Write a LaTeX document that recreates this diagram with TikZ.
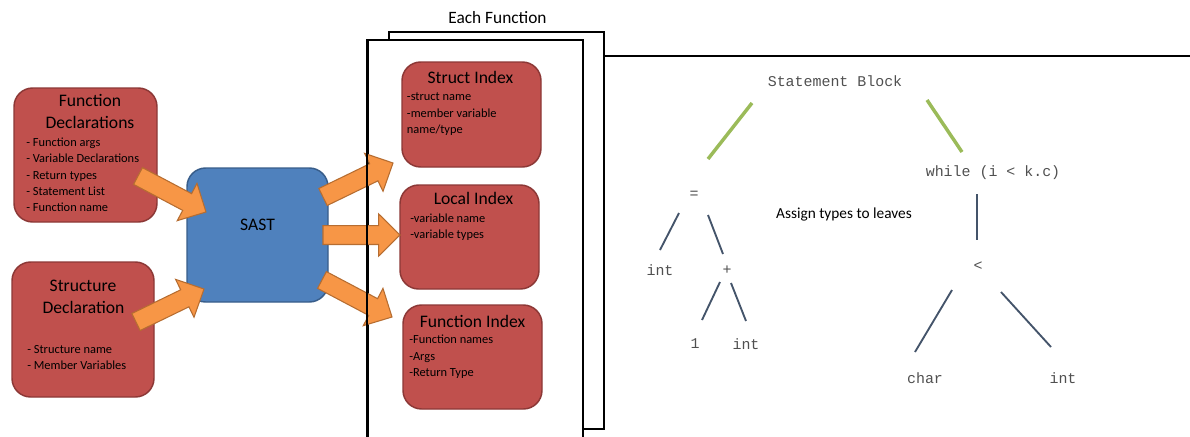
\documentclass[tikz,border=0pt]{standalone}
\usepackage{fontspec}
\setmainfont{Carlito}
\newfontfamily\monof{Liberation Mono}
\usetikzlibrary{calc,fit}
\definecolor{boxred}{HTML}{C0504D}
\definecolor{boxredline}{HTML}{8C3836}
\definecolor{sastblue}{HTML}{4F81BD}
\definecolor{sastline}{HTML}{385D8A}
\definecolor{arrorange}{HTML}{F79646}
\definecolor{arrline}{HTML}{B66D31}
\definecolor{treegreen}{HTML}{9BBB59}
\definecolor{treeblue}{HTML}{44546A}
\definecolor{treetext}{HTML}{505050}
\tikzset{
 redbox/.style={draw=boxredline, fill=boxred, line width=1.1pt, rounded corners=14pt, inner sep=0pt},
 bluebox/.style={draw=sastline, fill=sastblue, line width=1.1pt, rounded corners=14pt, inner sep=0pt},
 pagebox/.style={draw=black, fill=white, line width=1.5pt, inner sep=0pt},
 pageline/.style={draw=black, line width=1.5pt},
 titletxt/.style={font=\fontsize{13.2}{17.25}\selectfont, align=center, text=black, inner sep=0pt, anchor=base},
 listtxt/.style={font=\fontsize{9.3}{12.2}\selectfont, align=left, text=black, inner sep=0pt, anchor=base west},
 fat/.style={draw=arrline, fill=arrorange, line width=0.8pt, line join=miter},
 tlabel/.style={font=\monof\fontsize{11.2}{13}\selectfont, text=treetext, inner sep=0pt},
 gline/.style={draw=treegreen, line width=2.6pt},
 tline/.style={draw=treeblue, line width=1.4pt},
}
\newcommand\fatarrow[2]{%
 \draw[fat] ($(#1)!7.1pt!90:(#2)$) -- ($(#2)!16pt!(#1)!7.1pt!90:(#2)$) -- ($(#2)!16pt!(#1)!15.8pt!90:(#2)$) -- (#2) -- ($(#2)!16pt!(#1)!15.8pt!-90:(#2)$) -- ($(#2)!16pt!(#1)!7.1pt!-90:(#2)$) -- ($(#1)!7.1pt!-90:(#2)$) -- cycle;}
\begin{document}
\begin{tikzpicture}[x=0.75pt,y=-0.75pt]
\useasboundingbox (0,0) rectangle (1190,436);
% pages
\node[pagebox, fit={(389,32) (604,429)}] (bp) {};
\node[pagebox, fit={(368,40) (583,452)}] (fp) {};
\coordinate (rp) at (604,56);
\coordinate (rpend) at (1200,56);
\draw[pageline] (rp) -- (rpend);
\node[titletxt, font=\fontsize{13}{16}\selectfont] (each) at (497.5,23) {Each Function};
% boxes
\node[redbox, fit={(14,88) (157,222)}] (fd) {};
\node[redbox, fit={(12,262) (154,397)}] (sd) {};
\node[bluebox, fit={(187,168) (328,302)}] (sast) {};
\node[redbox, fit={(402,62) (541,167)}] (si) {};
\node[redbox, fit={(400,185) (539,289)}] (li) {};
\node[redbox, fit={(403,305) (542,409)}] (fi) {};
% texts (multi-line lists are anchored at the baseline of their last line)
\node[titletxt] (fdt1) at (90,106) {Function};
\node[titletxt] (fdt2) at (90,128) {Declarations};
\node[listtxt] (fdl) at (26,211.6) {- Function args\\- Variable Declarations\\- Return types\\- Statement List\\- Function name};
\node[titletxt] (sdt1) at (83,291) {Structure};
\node[titletxt] (sdt2) at (83.5,313) {Declaration};
\node[listtxt] (sdl) at (27,369.3) {- Structure name\\- Member Variables};
\node[titletxt] (sastt) at (257.5,230) {SAST};
\node[titletxt] (sit) at (470.5,83) {Struct Index};
\node[listtxt] (sil) at (406.7,133.5) {-struct name\\-member variable\\name/type};
\node[titletxt] (lit) at (473.5,204) {Local Index};
\node[listtxt] (lil) at (410,238.3) {-variable name\\-variable types};
\node[titletxt] (fint) at (472.5,327) {Function Index};
\node[listtxt] (fil) at (409,376.5) {-Function names\\-Args\\-Return Type};
% arrows
\coordinate (a1s) at (138,176); \coordinate (a1e) at (206,212);
\coordinate (a2s) at (136,322); \coordinate (a2e) at (204,289);
\coordinate (a3s) at (323,197); \coordinate (a3e) at (393,163);
\coordinate (a4s) at (323,235); \coordinate (a4e) at (400,235);
\coordinate (a5s) at (322,280); \coordinate (a5e) at (392,317);
\fatarrow{a1s}{a1e}
\fatarrow{a2s}{a2e}
\fatarrow{a3s}{a3e}
\fatarrow{a4s}{a4e}
\fatarrow{a5s}{a5e}
\draw[pageline] (fp.north west) -- (fp.south west);
% tree
\node[tlabel] (sb) at (835,81) {Statement Block};
\node[tlabel] (wh) at (993,173) {while (i < k.c)};
\node[tlabel] (eq) at (694,195) {=};
\node[tlabel] (i1) at (660,270) {int};
\node[tlabel] (pl) at (727,270) {+};
\node[tlabel] (one) at (695,344) {1};
\node[tlabel] (i2) at (746,344) {int};
\node[tlabel] (lt) at (978,266) {<};
\node[tlabel] (ch) at (925,378) {char};
\node[tlabel] (i3) at (1063,378) {int};
\node[titletxt, font=\fontsize{11.5}{14}\selectfont] (asg) at (844,218) {Assign types to leaves};
\draw[gline] ($(sb)+(-83,22)$) -- ($(eq)+(14,-36)$);
\draw[gline] ($(sb)+(92,19)$) -- ($(wh)+(-31,-21)$);
\draw[tline] ($(eq)+(-15,18)$) -- ($(i1)+(0,-20)$);
\draw[tline] ($(eq)+(14,20)$) -- ($(pl)+(-4,-16)$);
\draw[tline] ($(pl)+(-7,12)$) -- ($(one)+(7,-24)$);
\draw[tline] ($(pl)+(4,13)$) -- ($(i2)+(0,-23)$);
\draw[tline] ($(wh)+(-16,21)$) -- ($(lt)+(-1,-26)$);
\draw[tline] ($(lt)+(-26,24)$) -- ($(ch)+(-10,-26)$);
\draw[tline] ($(lt)+(23,26)$) -- ($(i3)+(-12,-31)$);
\end{tikzpicture}
\end{document}
